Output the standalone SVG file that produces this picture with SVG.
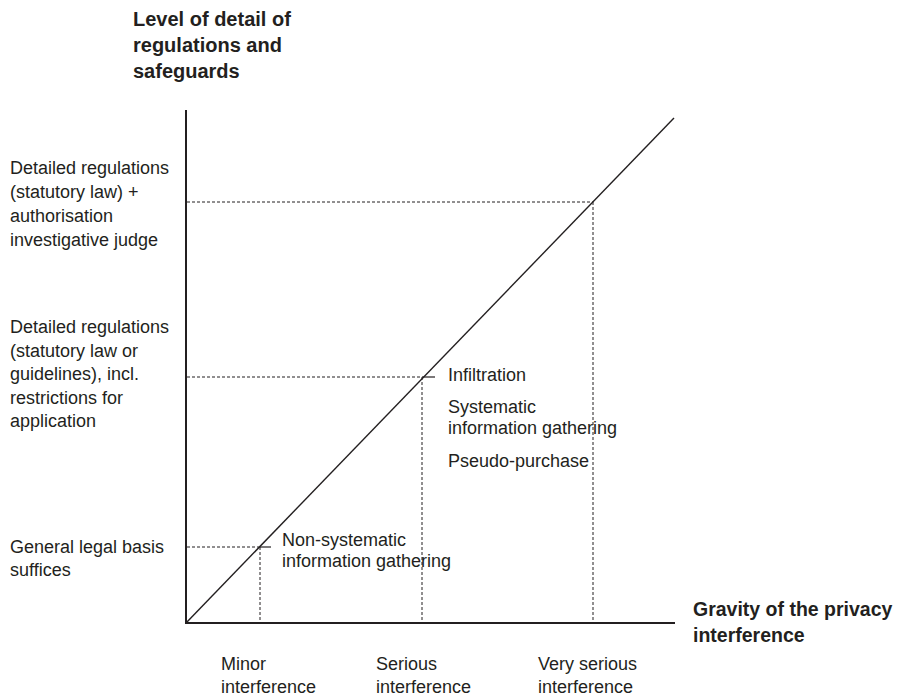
<svg xmlns="http://www.w3.org/2000/svg" width="898" height="696" viewBox="0 0 898 696">
<style>
.t{font-family:"Liberation Sans",Arial,sans-serif;font-size:18px;fill:#231f20}
.b{font-family:"Liberation Sans",Arial,sans-serif;font-size:20px;font-weight:bold;fill:#231f20}
.axis{stroke:#231f20;stroke-width:2;fill:none}
.diag{stroke:#231f20;stroke-width:1.4;fill:none}
.dash{stroke:#231f20;stroke-width:1;stroke-dasharray:3 2;fill:none}
.tick{stroke:#231f20;stroke-width:1.2;fill:none}
</style>
<rect width="898" height="696" fill="#ffffff"/>
<g id="connectors">
<line class="dash" x1="187" y1="202" x2="593" y2="202"/>
<line class="dash" x1="593" y1="202" x2="593" y2="622"/>
<line class="dash" x1="187" y1="377" x2="422" y2="377"/>
<line class="dash" x1="422" y1="377" x2="422" y2="622"/>
<line class="dash" x1="187" y1="547" x2="260" y2="547"/>
<line class="dash" x1="260" y1="547" x2="260" y2="622"/>
<line class="diag" x1="186" y1="623" x2="674" y2="118"/>
<line class="tick" x1="422" y1="377" x2="435" y2="377"/>
<line class="tick" x1="260" y1="547" x2="271" y2="547"/>
<polyline class="axis" points="186,110 186,623 675,623"/>
</g>
<g id="y-axis-title"><text class="b"><tspan x="133" y="26">Level of detail of</tspan><tspan x="133" y="52">regulations and</tspan><tspan x="133" y="78">safeguards</tspan></text></g>
<g id="x-axis-title"><text class="b" style="font-size:19.5px"><tspan x="693" y="616">Gravity of the privacy</tspan><tspan x="693" y="642">interference</tspan></text></g>
<g id="level-high"><text class="t"><tspan x="10" y="174">Detailed regulations</tspan><tspan x="10" y="198">(statutory law) +</tspan><tspan x="10" y="222">authorisation</tspan><tspan x="10" y="246">investigative judge</tspan></text></g>
<g id="level-mid"><text class="t"><tspan x="10" y="333">Detailed regulations</tspan><tspan x="10" y="357">(statutory law or</tspan><tspan x="10" y="380">guidelines), incl.</tspan><tspan x="10" y="404">restrictions for</tspan><tspan x="10" y="427">application</tspan></text></g>
<g id="level-low"><text class="t"><tspan x="10" y="553">General legal basis</tspan><tspan x="10" y="576">suffices</tspan></text></g>
<g id="gravity-minor"><text class="t"><tspan x="221" y="670">Minor</tspan><tspan x="221" y="693">interference</tspan></text></g>
<g id="gravity-serious"><text class="t"><tspan x="376" y="670">Serious</tspan><tspan x="376" y="693">interference</tspan></text></g>
<g id="gravity-very-serious"><text class="t"><tspan x="538" y="670">Very serious</tspan><tspan x="538" y="693">interference</tspan></text></g>
<g id="point-serious"><text class="t"><tspan x="448" y="381">Infiltration</tspan><tspan x="448" y="413">Systematic</tspan><tspan x="448" y="434">information gathering</tspan><tspan x="448" y="467">Pseudo-purchase</tspan></text></g>
<g id="point-minor"><text class="t"><tspan x="282" y="546">Non-systematic</tspan><tspan x="282" y="567">information gathering</tspan></text></g>
</svg>
